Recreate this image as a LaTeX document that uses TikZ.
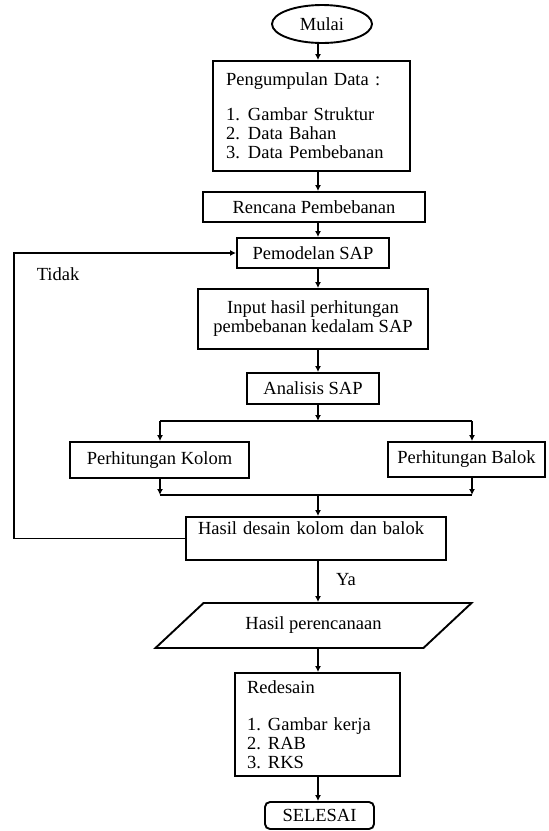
\documentclass[tikz,border=0pt]{standalone}
\usepackage{fontspec}
\setmainfont{Liberation Serif}
\usetikzlibrary{shapes.geometric,arrows.meta}
\begin{document}
\begin{tikzpicture}[x=1pt,y=-1pt,
  every node/.style={font=\fontsize{18.5}{19}\selectfont, inner sep=0pt},
  box/.style={draw, line width=1.9pt, rectangle},
  arr/.style={line width=1.9pt, -{Latex[length=6pt,width=6pt]}},
  ln/.style={line width=1.9pt}]
\useasboundingbox (0,0) rectangle (549,831);
\coordinate (axis) at (318,0);
% nodes
\node[draw, ellipse, line width=1.9pt, minimum width=100pt, minimum height=38pt] (mulai) at (322,24) {Mulai};
\node[box, minimum width=197pt, minimum height=110pt, text width=171pt, align=left] (peng) at (311.5,116)
  {Pengumpulan Data :\\[16pt]
   \makebox[22pt][l]{1.}Gambar Struktur\\
   \makebox[22pt][l]{2.}Data Bahan\\
   \makebox[22pt][l]{3.}Data Pembebanan};
\node[box, minimum width=222pt, minimum height=30pt] (renc) at (314,207) {Rencana Pembebanan};
\node[box, minimum width=152pt, minimum height=30pt] (pemod) at (313,253) {Pemodelan SAP};
\node[box, minimum width=230pt, minimum height=60pt, align=center] (input) at (313,319)
  {Input hasil perhitungan\\pembebanan kedalam SAP};
\node[box, minimum width=132pt, minimum height=31pt] (anal) at (313,388.5) {Analisis SAP};
\node[box, minimum width=179pt, minimum height=36pt] (kolom) at (159.5,460) {Perhitungan Kolom};
\node[box, minimum width=157pt, minimum height=35pt] (balok) at (466.5,459.5) {Perhitungan Balok};
\node[box, minimum width=260pt, minimum height=43pt, text width=236pt, align=left,
      text height=17pt, text depth=26pt] (hasil) at (316,538.5) {Hasil desain kolom dan balok};
\node[draw, trapezium, line width=1.9pt, trapezium left angle=29.4, trapezium right angle=150.6,
      trapezium stretches, minimum width=317pt, minimum height=45pt] (paral) at (313.5,625.5) {Hasil perencanaan};
\node[box, minimum width=165pt, minimum height=103pt, text width=141pt, align=left] (redes) at (317.5,724.5)
  {Redesain\\[18pt]
   \makebox[21pt][l]{1.}Gambar kerja\\
   \makebox[21pt][l]{2.}RAB\\
   \makebox[21pt][l]{3.}RKS};
\node[box, rounded corners=5pt, minimum width=109pt, minimum height=27pt] (selesai) at (319.5,815.5) {SELESAI};
\node (tidak) at (58,274) {Tidak};
\node (ya) at (346,580) {Ya};
% junction coordinates
\coordinate (bl) at (160,421);
\coordinate (br) at (472,421);
\coordinate (ml) at (160,495);
\coordinate (mr) at (472,495);
\coordinate (fb1) at (14,538.5);
\coordinate (fb2) at (14,253);
% connectors
\draw[arr] (mulai.south -| axis) -- (peng.north -| axis);
\draw[arr] (peng.south -| axis) -- (renc.north -| axis);
\draw[arr] (renc.south -| axis) -- (pemod.north -| axis);
\draw[arr] (pemod.south -| axis) -- (input.north -| axis);
\draw[arr] (input.south -| axis) -- (anal.north -| axis);
\draw[arr] (anal.south -| axis) -- (bl -| axis);
\draw[ln] (bl) -- (br);
\draw[arr] (bl) -- (kolom.north -| bl);
\draw[arr] (br) -- (balok.north -| br);
\draw[arr] (kolom.south -| ml) -- (ml);
\draw[arr] (balok.south -| mr) -- (mr);
\draw[ln] (ml) -- (mr);
\draw[arr] (ml -| axis) -- (hasil.north -| axis);
\draw[arr] (hasil.west) -- (fb1) -- (fb2) -- (pemod.west);
\draw[arr] (hasil.south -| axis) -- (paral.north -| axis);
\draw[arr] (paral.south -| axis) -- (redes.north -| axis);
\draw[arr] (redes.south -| axis) -- (selesai.north -| axis);
\end{tikzpicture}
\end{document}
